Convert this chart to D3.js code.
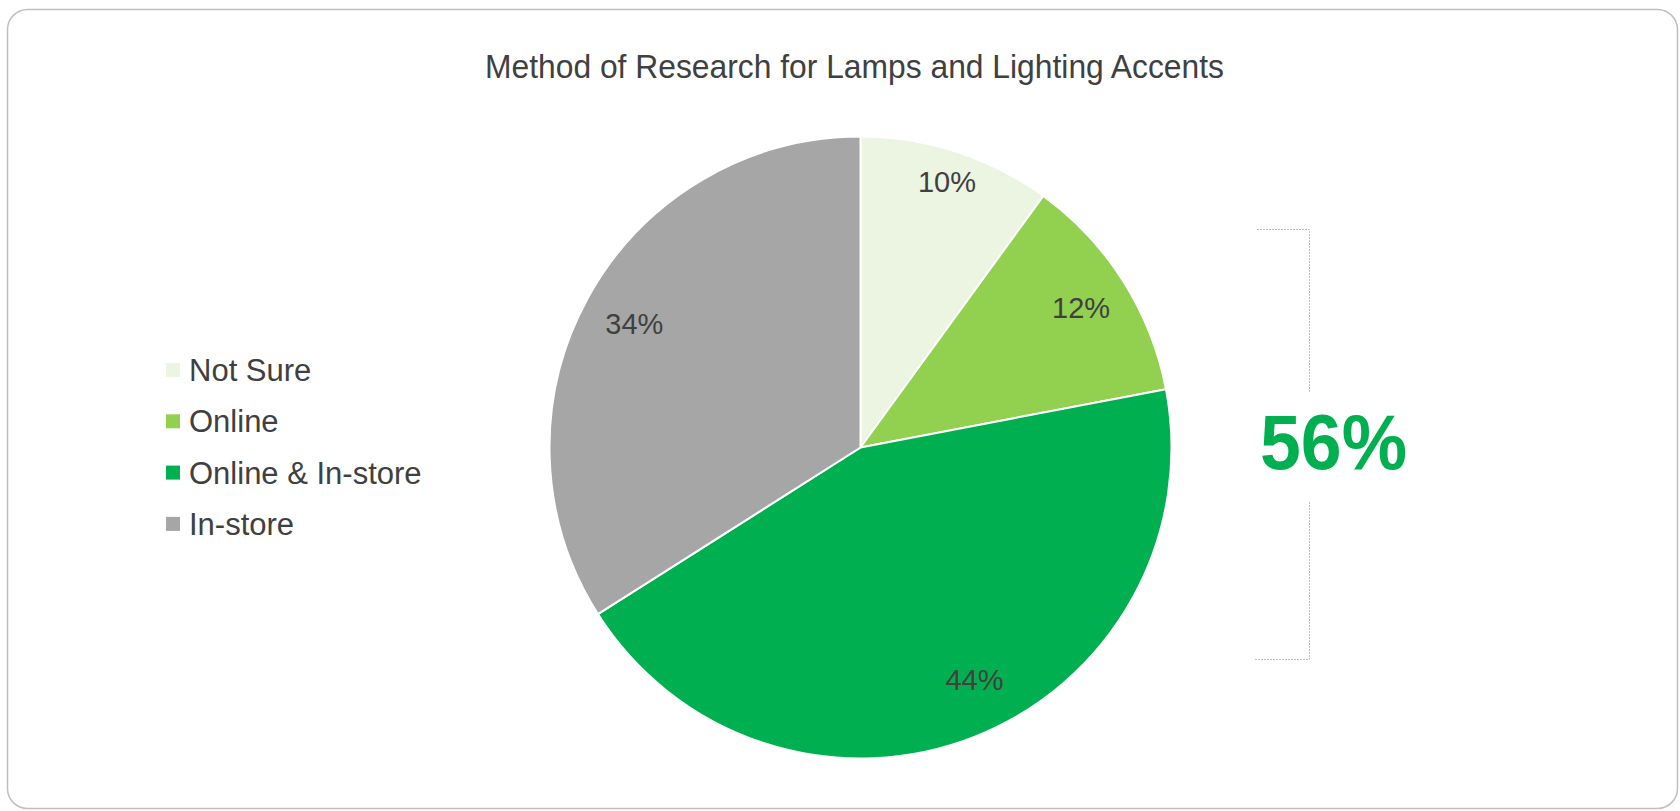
<!DOCTYPE html>
<html>
<head>
<meta charset="utf-8">
<script src="https://cdn.jsdelivr.net/npm/d3@7"></script>
<style>
  body { margin:0; background:#fff; }
  svg text { font-family: "Liberation Sans", Arial, sans-serif; }
</style>
</head>
<body>
<div id="chart"></div>
<script>
const width = 1680;
const height = 811;

// data
const categories = ['Not Sure', 'Online', 'Online & In-store', 'In-store'];
const shares = [10, 12, 44, 34];
const colors = ['#EBF5E1', '#92D050', '#00B050', '#A6A6A6'];
const bracketed = ['Online', 'Online & In-store'];
const title = 'Method of Research for Lamps and Lighting Accents';

const cx = 860.5, cy = 447.5, radius = 311;
// where Excel's "best fit" put each label, as a fraction of the radius
const labelPos = {'Not Sure':0.9, 'Online':0.84, 'Online & In-store':0.83, 'In-store':0.83};
const labelTurn = {'Not Sure':0, 'Online':0, 'Online & In-store':-0.08, 'In-store':0};

var svg = d3.select('#chart')
  .append('svg')
  .attr('width', width)
  .attr('height', height);

// frame
svg.append('rect')
  .attr('x', 7.5).attr('y', 9.5)
  .attr('width', 1670).attr('height', 799)
  .attr('rx', 20).attr('ry', 20)
  .attr('fill', '#fff')
  .attr('stroke', '#BFBFBF')
  .attr('stroke-width', 1.5);

svg.append('text')
  .attr('x', 854.5).attr('y', 78)
  .attr('text-anchor', 'middle')
  .attr('font-size', 33)
  .attr('fill', '#404040')
  .attr('textLength', 739)
  .attr('lengthAdjust', 'spacingAndGlyphs')
  .text(title);

// pie
var pie = d3.pie().sort(null).value(d => d.v);
var arc = d3.arc().innerRadius(0).outerRadius(radius);
var rows = categories.map((c, i) => ({cat: c, v: shares[i], color: colors[i]}));
var arcs = pie(rows);

var g = svg.append('g').attr('transform', `translate(${cx},${cy})`);

g.selectAll('path.slice')
  .data(arcs)
  .enter().append('path')
  .attr('class', 'slice')
  .attr('d', arc)
  .attr('fill', d => d.data.color)
  .attr('stroke', '#fff')
  .attr('stroke-width', 2)
  .attr('stroke-linejoin', 'round');

g.selectAll('text.lbl')
  .data(arcs)
  .enter().append('text')
  .attr('class', 'lbl')
  .attr('transform', d => {
    let a = (d.startAngle + d.endAngle) / 2 + labelTurn[d.data.cat];
    let r = radius * labelPos[d.data.cat];
    return `translate(${Math.sin(a) * r},${-Math.cos(a) * r})`;
  })
  .attr('dy', '0.36em')
  .attr('text-anchor', 'middle')
  .attr('font-size', 29)
  .attr('fill', '#404040')
  .text(d => d.data.v + '%');

// legend
var legend = svg.append('g').attr('transform', 'translate(166,370)');
var item = legend.selectAll('g')
  .data(rows)
  .enter().append('g')
  .attr('transform', (d, i) => `translate(0,${i * 51.3})`);
item.append('rect')
  .attr('x', 0).attr('y', -7)
  .attr('width', 14).attr('height', 14)
  .attr('fill', d => d.color);
item.append('text')
  .attr('x', 23).attr('y', 0)
  .attr('dy', '0.36em')
  .attr('font-size', 31)
  .attr('fill', '#404040')
  .text(d => d.cat);

// bracket with the combined share
var total = d3.sum(rows.filter(d => bracketed.includes(d.cat)), d => d.v);
var br = svg.append('g')
  .attr('fill', 'none')
  .attr('stroke', '#BFBFBF')
  .attr('stroke-width', 1)
  .attr('stroke-dasharray', '2,1');
br.append('path').attr('d', 'M1257,229.5H1309.5V393');
br.append('path').attr('d', 'M1309.5,502V659.5H1255');

svg.append('text')
  .attr('x', 1333.5).attr('y', 469)
  .attr('text-anchor', 'middle')
  .attr('font-size', 78)
  .attr('font-weight', 'bold')
  .attr('fill', '#00B050')
  .attr('textLength', 147)
  .attr('lengthAdjust', 'spacingAndGlyphs')
  .text(total + '%');
</script>
</body>
</html>
